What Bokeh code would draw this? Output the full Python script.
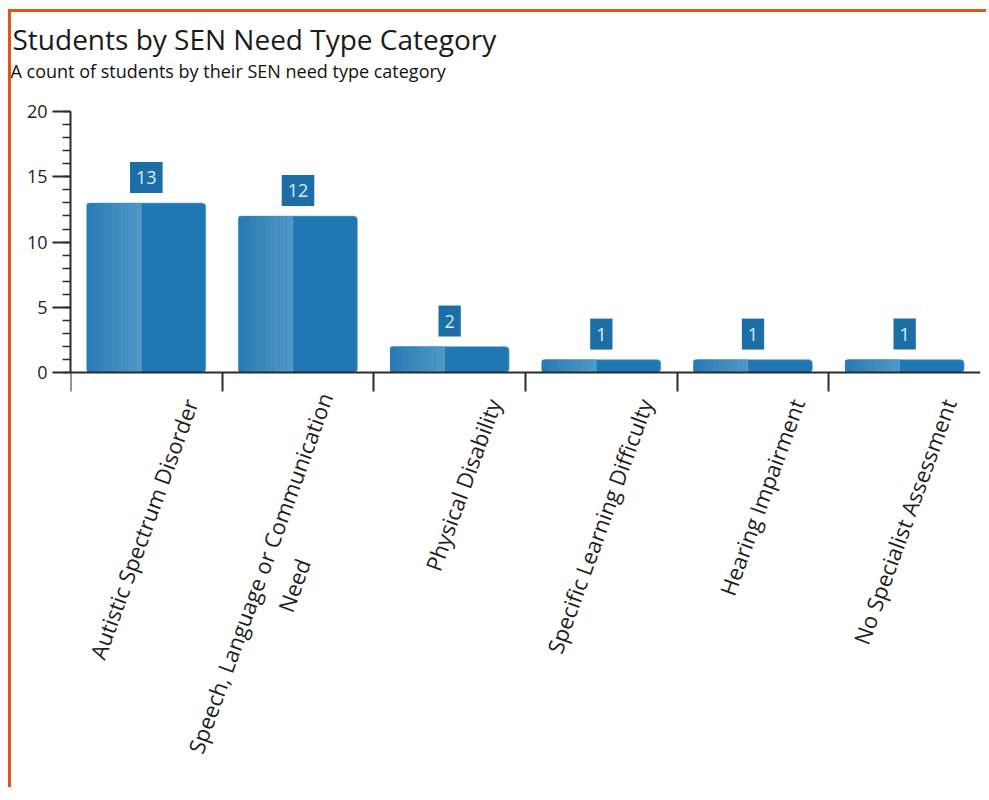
from bokeh.plotting import figure
from bokeh.models import (Range1d, LinearAxis, FixedTicker, SingleIntervalTicker,
                          ColumnDataSource, Title)
from bokeh.transform import dodge
from bokeh.core.properties import value
from bokeh.embed import file_html
from bokeh.resources import INLINE

# ---------------- data ----------------
title_text = "Students by SEN Need Type Category"
subtitle_text = "A count of students by their SEN need type category"
categories = [
    "Autistic Spectrum Disorder",
    "Speech, Language or Communication Need",
    "Physical Disability",
    "Specific Learning Difficulty",
    "Hearing Impairment",
    "No Specialist Assessment",
]
tick_labels = [
    "Autistic Spectrum Disorder",
    "Speech, Language or Communication\nNeed",
    "Physical Disability",
    "Specific Learning Difficulty",
    "Hearing Impairment",
    "No Specialist Assessment",
]
counts = [13, 12, 2, 1, 1, 1]
y_max = 20
y_interval = 5

# ---------------- style ----------------
FONT = "Open Sans"
TXT = "#1e1e1e"
AXIS = "#2b2b2b"
BAR = "#1f77b4"
LIGHT_FROM = (0x2a, 0x7c, 0xb6)
LIGHT_TO = (0x52, 0x98, 0xc7)
BOX = "#1c6ea6"
BOX_TXT = "#dcedf8"
BAR_W = 0.785
Y_LO = -32          # room below the axis for the rotated category labels

n = len(categories)
slot = [i + 0.5 for i in range(n)]          # category slot centres on the x scale
src = ColumnDataSource(dict(cat=categories, x=slot, zero=[0] * n, count=counts,
                            label=[str(c) for c in counts], tick=tick_labels))

p = figure(
    width=978, height=778,
    x_range=Range1d(0, n),
    y_range=Range1d(Y_LO, y_max),
    x_axis_location=None, y_axis_location=None,
    title=None,
    toolbar_location=None, output_backend="svg",
    min_border_left=59, min_border_right=9, min_border_bottom=0, min_border_top=99,
)
p.styles = {
    "margin-left": "8px", "margin-top": "9px",
    "border-top": "3px solid #e2541c", "border-left": "3px solid #e2541c",
}
p.outline_line_color = None
p.grid.visible = False
p.background_fill_color = "white"
p.border_fill_color = "white"

# titles
sub = Title(text=subtitle_text, text_font=FONT, text_font_size="18px", text_font_style="normal",
            text_color="#111111", align="left", offset=-60, standoff=58)
p.add_layout(sub, "above")
ttl = Title(text=title_text, text_font=FONT, text_font_size="28px", text_font_style="normal",
            text_color="#1a1a1a", align="left", offset=-58, standoff=-60)
p.add_layout(ttl, "above")

# y axis (only spans the 0..20 value range)
yax = LinearAxis(ticker=SingleIntervalTicker(interval=y_interval, num_minor_ticks=5), bounds=(0, y_max))
yax.axis_line_color = AXIS
yax.axis_line_width = 2
yax.major_tick_line_color = AXIS
yax.major_tick_line_width = 2
yax.major_tick_out = 18
yax.major_tick_in = 0
yax.minor_tick_line_color = AXIS
yax.minor_tick_line_width = 1.5
yax.minor_tick_out = 8
yax.minor_tick_in = 0
yax.major_label_text_font = FONT
yax.major_label_text_font_size = "18px"
yax.major_label_text_color = TXT
yax.major_label_standoff = 5
p.add_layout(yax, "left")

# x axis at value 0: ticks at category boundaries
xax = LinearAxis(ticker=FixedTicker(ticks=list(range(n))), fixed_location=0)
xax.axis_line_color = AXIS
xax.axis_line_width = 2
xax.major_tick_line_color = AXIS
xax.major_tick_line_width = 2
xax.major_tick_out = 19
xax.major_tick_in = 0
xax.minor_tick_line_color = None
xax.major_label_overrides = {i: "" for i in range(n)}
xax.major_label_text_font_size = "1px"
p.add_layout(xax, "below")

# bars (base)
p.vbar(x="x", top="count", bottom="zero", width=BAR_W, source=src, fill_color=BAR,
       line_color="#8fc0e0", line_width=0.6, border_radius=4)

# lighter gradient on the left part of each bar
N = 16
left_frac = 0.46
sw = BAR_W * left_frac / N
for k in range(N):
    t = k / (N - 1)
    col = "#%02x%02x%02x" % tuple(int(a + (b - a) * t) for a, b in zip(LIGHT_FROM, LIGHT_TO))
    off = -BAR_W / 2 + (k + 0.5) * sw
    p.vbar(x=dodge("x", off), top="count", bottom="zero", width=sw * 1.05,
           source=src, fill_color=col, line_color=None, border_radius=4 if k == 0 else 0)

# value labels in boxes
p.text(x="x", y="count", text="label", source=src, anchor="bottom_center", y_offset=-10,
       text_font=value(FONT), text_font_size="18px", text_color=BOX_TXT,
       background_fill_color=BOX, padding=(6, 9))

# rotated category labels under the axis
p.text(x=dodge("x", 0.0), y="zero", text="tick", source=src, x_offset=44, y_offset=27,
       angle=70, angle_units="deg", anchor="center_right", text_align="center",
       text_font=value(FONT), text_font_size="22px", text_color=TXT)

open("out.html", "w").write(file_html(p, INLINE))
